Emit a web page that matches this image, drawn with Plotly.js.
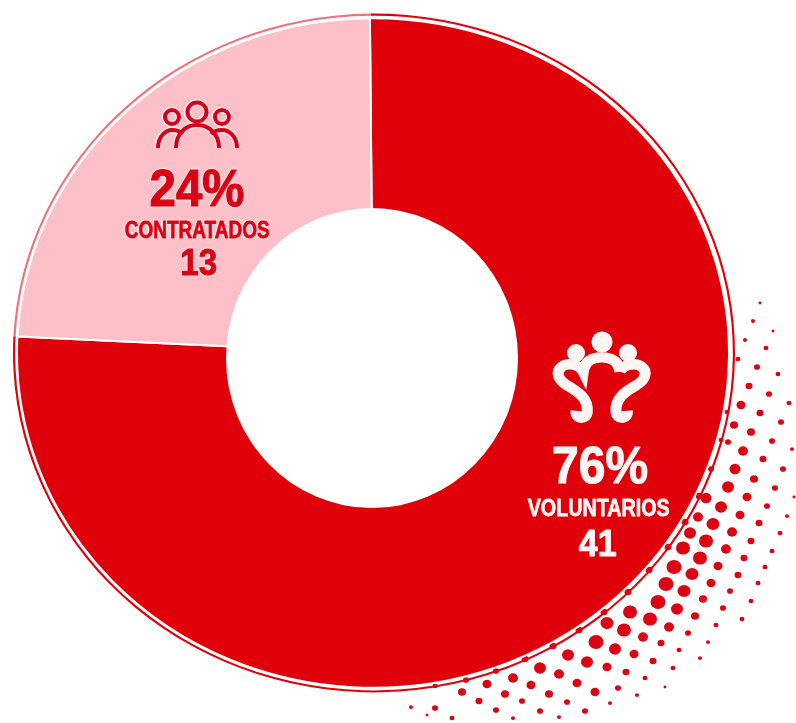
<!DOCTYPE html>
<html>
<head>
<meta charset="utf-8">
<script src="https://cdn.plot.ly/plotly-3.0.1.min.js"></script>
<style>
html,body{margin:0;padding:0;background:#fff;overflow:hidden;width:796px;height:723px}
#wrap{width:796px;height:723px;overflow:hidden}
#chart{width:796px;height:769px;transform:scaleY(0.9402);transform-origin:0 0}
</style>
</head>
<body>
<div id="wrap"><div id="chart"></div></div>
<script>
var categories = ['VOLUNTARIOS', 'CONTRATADOS'];
var counts = [41, 13];
var percentLabels = ['76%', '24%'];
var sliceColors = ['#e0000a', '#fdc0c8'];
var ringColors = ['#e0000a', '#f2707c'];

// Halftone dots (reference pixels; d = diameter)
var dotX = [760,753,773,745,766,738,757,778,749,769,789,741,760,781,734,751,772,792,728,743,763,783,735,754,775,794,728,747,767,787,721,740,759,780,706,698,713,732,751,772,690,706,726,744,765,683,700,718,738,758,674,692,711,730,751,666,684,703,723,742,658,677,695,716,630,650,669,688,708,607,624,643,661,679,700,596,615,634,653,673,568,587,607,626,645,665,540,559,577,595,618,637,513,531,549,567,585,610,487,505,522,540,559,462,479,496,513,435,452,470,411,427,
  727,721,711,699,685,668,649,628,604,579,553,525,496,466,435];
var dotY = [303,321,331,340,348,359,367,374,386,394,403,405,413,422,425,432,441,449,442,451,459,469,469,479,488,497,487,497,506,516,507,515,523,533,498,517,524,532,541,551,533,541,549,558,567,548,558,566,575,583,567,574,583,591,601,584,591,599,608,619,602,609,616,625,612,619,627,633,642,623,630,637,643,650,658,642,649,654,661,668,655,662,667,672,678,687,668,674,683,692,688,695,678,685,694,702,711,703,684,694,701,711,717,692,701,710,718,708,718,727,707,715,
  412,440,469,496,522,547,570,592,612,630,646,659,671,680,686];
var dotD = [3,4,3,4,5,5,6,5,7,6,5,9,7,6,8,8,6,4,6,10,7,6,11,8,6,3,12,9,6,4,12,9,7,5,11,10,13,10,7,5,12,14,10,7,5,14,14,9,7,5,15,13,9,6,5,15,13,8,6,5,15,12,8,5,14,14,10,6,4,13,14,10,7,5,4,15,12,9,7,5,12,12,9,7,5,3,12,10,9,9,6,4,10,9,8,6,6,4,9,8,6,6,4,8,7,6,4,6,5,4,4,3,
  5,5,6,7,7,7,7,7,7,7,7,7,6,6,5];

var W = 796, H = 769, S = 723 / 769;
function domain(cx, cy, r) {
  var py = cy / S;
  return {x: [(cx - r) / W, (cx + r) / W], y: [(H - py - r) / H, (H - py + r) / H]};
}
var DEEP = '#d4001a';
var data = [
  {type: 'scatter', mode: 'markers', x: dotX, y: dotY, hoverinfo: 'skip', showlegend: false,
   marker: {size: dotD, color: '#dc0412', opacity: 1, line: {width: 0}}},
  {type: 'pie', labels: categories, values: counts, sort: false, direction: 'clockwise', rotation: -0.5,
   hole: 0.994, domain: domain(374, 353, 361), textinfo: 'none', showlegend: false, hoverinfo: 'skip',
   marker: {colors: ringColors, line: {width: 0}}},
  {type: 'pie', labels: categories, values: counts, sort: false, direction: 'clockwise', rotation: -0.5,
   hole: 0.38, domain: domain(373, 353, 356), textinfo: 'none', showlegend: false,
   marker: {colors: sliceColors, line: {color: '#ffffff', width: 2}}}
];

function circle(cx, cy, rx, ry, fill, lineColor, lw) {
  return {type: 'circle', xref: 'x', yref: 'y', x0: cx - rx, x1: cx + rx, y0: cy - ry, y1: cy + ry,
    fillcolor: fill, line: {color: lineColor, width: lw}, layer: 'above'};
}
function stroke(d, color, lw) {
  return {type: 'path', xref: 'x', yref: 'y', path: d, fillcolor: 'rgba(0,0,0,0)',
    line: {color: color, width: lw}, layer: 'above'};
}
var pplA = 'M176,148 C176,133 186,125 197,125 C208,125 219,133 219,148';
var pplB = 'M158,148 C158,136 166,130 172,130 C176,130 180,131 183,134';
var pplC = 'M237,148 C237,136 229,130 222,130 C218,130 214,131 211,134';
var volBody = 'M620,371.7 C618.3,360 610,357.3 601.7,357.3 C593.3,357.3 585,360 583.3,371.7 C580,365 568.3,361.7 561.7,366.7 C555,371.7 558.3,380 566.7,385 C578.3,391.7 588.3,398.3 587.3,411.7 C586.7,420 575,420 576,410.7';
var volBodyR = 'M620,371.7 C622.7,365 635,361.7 641.7,366.7 C648.3,371.7 645,380 636.7,385 C625,391.7 615,398.3 616,411.7 C616.7,420 628.3,420 627.3,410.7';
var HL = '#ffe6ea', CR = '#fff6f4', NONE = 'rgba(0,0,0,0)';
var shapes = [
  circle(372, 358, 146, 150, '#ffffff', '#ffffff', 0),
  stroke(pplA, HL, 7), stroke(pplB, HL, 7), stroke(pplC, HL, 7),
  circle(197, 112, 9.5, 9.5, NONE, HL, 7),
  circle(172, 117, 7, 7, NONE, HL, 7),
  circle(222, 117, 7, 7, NONE, HL, 7),
  stroke(pplA, DEEP, 4), stroke(pplB, DEEP, 4), stroke(pplC, DEEP, 4),
  circle(197, 112, 9.5, 9.5, NONE, DEEP, 4),
  circle(172, 117, 7, 7, NONE, DEEP, 4),
  circle(222, 117, 7, 7, NONE, DEEP, 4),
  circle(602, 342, 10.5, 10.5, CR, CR, 0),
  circle(576, 353, 9, 9, CR, CR, 0),
  circle(628, 353, 9, 9, CR, CR, 0),
  stroke(volBody, CR, 11), stroke(volBodyR, CR, 11)
];

var FONT = '"Liberation Sans", sans-serif';
// squeezed widths of the labels, since the original lettering is condensed
var textWidths = [95, 145, 37, 96, 142, 38];
var textStroke = [1.2, 0.8, 1, 1.2, 0.8, 1];
function label(txt, x, y, size, color) {
  return {text: txt, xref: 'x', yref: 'y', x: x, y: y, showarrow: false,
    xanchor: 'center', yanchor: 'middle',
    font: {family: FONT, size: size, color: color, weight: 'bold', shadow: 'none'}};
}
var PINKTXT = '#dc0014';
var annotations = [
  label(percentLabels[1], 197, 188, 56, PINKTXT),
  label(categories[1], 197, 229, 26, PINKTXT),
  label(String(counts[1]), 198, 263, 39, PINKTXT),
  label(percentLabels[0], 600, 465, 56, CR),
  label(categories[0], 598, 508, 26, CR),
  label(String(counts[0]), 597, 543, 39, CR)
];

var axis = {visible: false, fixedrange: true, showgrid: false, zeroline: false};
var layout = {
  width: W, height: H, margin: {l: 0, r: 0, t: 0, b: 0},
  paper_bgcolor: '#ffffff', plot_bgcolor: '#ffffff', showlegend: false,
  xaxis: Object.assign({range: [0, 796]}, axis),
  yaxis: Object.assign({range: [723, 0]}, axis),
  shapes: shapes, annotations: annotations
};
Plotly.newPlot('chart', data, layout, {displayModeBar: false, responsive: false}).then(function (gd) {
  gd.querySelectorAll('.annotation-text').forEach(function (t, i) {
    t.setAttribute('textLength', textWidths[i]);
    t.setAttribute('lengthAdjust', 'spacingAndGlyphs');
    t.style.stroke = annotations[i].font.color;
    t.style.strokeWidth = textStroke[i] + 'px';
    t.style.paintOrder = 'stroke fill';
    t.style.strokeLinejoin = 'round';
    if (i < 3) t.style.filter = 'drop-shadow(0 0 1.5px #fff)';
  });
});
</script>
</body>
</html>
